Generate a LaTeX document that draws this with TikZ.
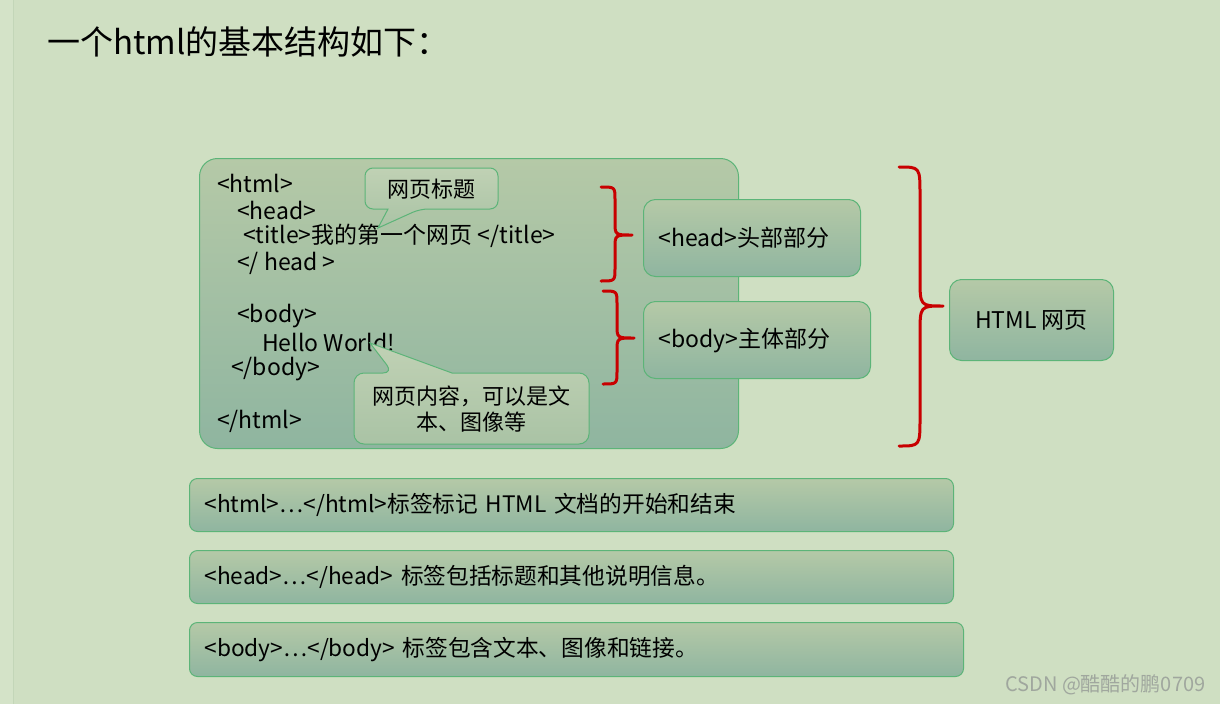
\documentclass[tikz,border=0pt]{standalone}
\usepackage{fontspec}
\setmainfont{Noto Sans CJK SC}
\definecolor{bg}{RGB}{207,223,194}
\definecolor{strip}{RGB}{212,227,200}
\definecolor{stripline}{RGB}{195,214,184}
\definecolor{boxtop}{RGB}{181,201,167}
\definecolor{boxbot}{RGB}{143,181,160}
\definecolor{boxline}{RGB}{92,180,120}
\definecolor{bracered}{RGB}{200,0,0}
\definecolor{wm}{RGB}{160,167,158}
\tikzset{
  box/.style={draw=boxline, line width=1pt, rounded corners=12pt, top color=boxtop, bottom color=boxbot, anchor=north west, inner xsep=15pt, inner ysep=0pt, align=left},
  callout/.style={draw=boxline, line width=1pt, top color=boxtop!85!white, bottom color=boxtop!70!boxbot},
  codeline/.style={anchor=west, inner sep=0pt, font=\fontsize{23}{27}\selectfont},
  boxtext/.style={font=\fontsize{23}{27}\selectfont},
  lowtext/.style={font=\fontsize{22.7}{27}\selectfont},
  brace/.style={draw=bracered, line width=3pt, line cap=round, line join=round},
}
\begin{document}
\begin{tikzpicture}[x=1pt,y=-1pt]
\useasboundingbox (0,0) rectangle (1220,704);
\fill[bg] (0,0) rectangle (1220,704);
\fill[strip] (0,0) rectangle (13,704);
\draw[stripline, line width=1pt] (13,0) -- (13,704);

% title
\node[anchor=west, inner sep=0pt, font=\fontsize{33}{38}\selectfont] (title) at (47,42) {一个html的基本结构如下：};

% main code box
\node[box, rounded corners=18pt, minimum width=539pt, minimum height=290pt] (main) at (199,158) {};
\node[codeline] (l1) at (217,183) {<html>};
\node[codeline] (l2) at (237,210) {<head>};
\node[codeline] (l3) at (243,236) {<title>我的第一个网页 </title>};
\node[codeline] (l4) at (237,263) {</ head >};
\node[codeline] (l5) at (237,316) {<body>};
\node[codeline] (l6) at (262,342) {Hello World!};
\node[codeline] (l7) at (231,369) {</body>};
\node[codeline] (l8) at (217,421) {</html>};

% callout 1
\path[callout] (378,228) -- (388,209) [rounded corners=8pt] -- (365,209) -- (365,168) -- (498,168) -- (498,209) -- (420,209) [sharp corners] -- cycle;
\node[inner sep=0pt, font=\fontsize{22}{26}\selectfont] (c1) at (431.5,189) {网页标题};

% callout 2
\path[callout] (370,343) -- (452,373) [rounded corners=10pt] -- (589,373) -- (589,444) -- (354,444) -- (354,373) -- (393,373) [sharp corners] -- cycle;
\node[inner sep=0pt, align=center, font=\fontsize{22}{26.5}\selectfont] (c2) at (471.5,409) {网页内容，可以是文\\本、图像等};

% braces
\draw[brace] (601,187) .. controls (615,187) .. (615,200) -- (615,222) .. controls (615,235) .. (632,235) .. controls (615,235) .. (615,248) -- (615,268) .. controls (615,281) .. (601,281);
\draw[brace] (603,291) .. controls (617,291) .. (617,304) -- (617,325) .. controls (617,338) .. (634,338) .. controls (617,338) .. (617,351) -- (617,371) .. controls (617,384) .. (603,384);
\draw[brace] (899,167) .. controls (920,167) .. (920,195) -- (920,278) .. controls (920,306) .. (943,306) .. controls (920,306) .. (920,334) -- (920,418) .. controls (920,446) .. (899,446);

% side boxes
\node[box, minimum width=217pt, minimum height=77pt, text width=187pt, boxtext] (head) at (643,199) {<head>头部部分};
\node[box, minimum width=227pt, minimum height=77pt, text width=197pt, boxtext] (body) at (643,301) {<body>主体部分};
\node[box, minimum width=164pt, minimum height=81pt, align=center, boxtext] (page) at (949,279) {HTML 网页};

% bottom boxes
\node[box, rounded corners=8pt, minimum width=764pt, minimum height=53pt, text width=734pt, lowtext] (b1) at (189,478) {<html>…</html>标签标记 HTML 文档的开始和结束};
\node[box, rounded corners=8pt, minimum width=764pt, minimum height=53pt, text width=734pt, lowtext] (b2) at (189,550) {<head>…</head> 标签包括标题和其他说明信息。};
\node[box, rounded corners=8pt, minimum width=774pt, minimum height=54pt, text width=744pt, lowtext] (b3) at (189,622) {<body>…</body> 标签包含文本、图像和链接。};

% watermark
\node[anchor=west, inner sep=0pt, text=wm, font=\fontsize{20}{24}\selectfont] (wmk) at (1005,685) {CSDN @酷酷的鹏0709};
\end{tikzpicture}
\end{document}
